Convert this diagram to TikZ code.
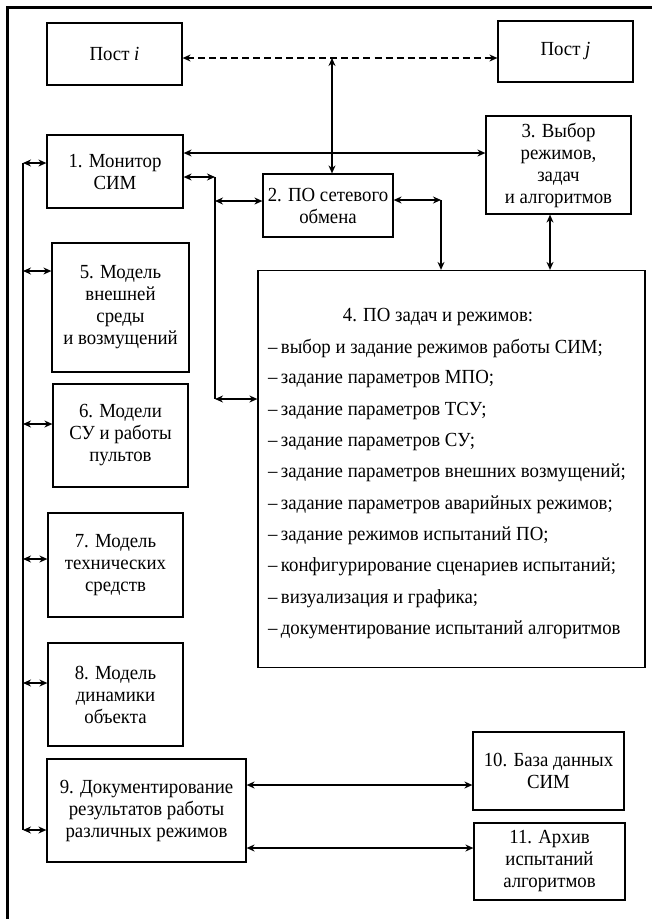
\documentclass[tikz,border=0pt]{standalone}
\usepackage{fontspec}
\setmainfont[FakeStretch=0.94]{Liberation Serif}
\usetikzlibrary{arrows.meta}
\newcommand{\blkfont}{\fontsize{20}{22}\selectfont}
\newcommand{\dsh}{--\,}

\begin{document}
\begin{tikzpicture}[x=1pt,y=-1pt,
  blk/.style={draw, line width=1.2pt, align=center, inner sep=0pt, font=\blkfont},
  lnk/.style={line width=1.7pt, {Stealth[length=8pt,width=7pt]}-{Stealth[length=8pt,width=7pt]}},
  tolnk/.style={line width=1.7pt, -{Stealth[length=8pt,width=7pt]}},
  item/.style={anchor=west, inner sep=0pt, font=\blkfont}]

 \useasboundingbox (0,0) rectangle (652,919);
 \draw[line width=3pt] (7,930) -- (7,7) -- (660,7);

 \node[blk, minimum width=135pt, minimum height=62pt] (posti) at (114.5,54) {Пост \textit{i}};
 \node[blk, minimum width=135pt, minimum height=61pt] (postj) at (565.5,51.5) {Пост \textit{j}};
 \node[blk, minimum width=136pt, minimum height=73pt] (b1) at (115,171.5) {1. Монитор\\СИМ};
 \node[blk, minimum width=130pt, minimum height=63pt] (b2) at (328,205.5) {2. ПО сетевого\\обмена};
 \node[blk, minimum width=145pt, minimum height=98pt] (b3) at (558.5,165) {3. Выбор\\режимов,\\задач\\и алгоритмов};
 \node[blk, minimum width=387pt, minimum height=397pt] (b4) at (451.5,469) {};
 \node[blk, minimum width=137pt, minimum height=129pt] (b5) at (120.5,307.5) {5. Модель\\внешней\\среды\\и возмущений};
 \node[blk, minimum width=135pt, minimum height=103pt] (b6) at (120.5,435.5) {6. Модели\\СУ и работы\\пультов};
 \node[blk, minimum width=135pt, minimum height=104pt] (b7) at (115.5,565) {7. Модель\\технических\\средств};
 \node[blk, minimum width=135pt, minimum height=103pt] (b8) at (115.5,694.5) {8. Модель\\динамики\\объекта};
 \node[blk, minimum width=199pt, minimum height=103pt] (b9) at (146.5,810.5) {9. Документирование\\результатов работы\\различных режимов};
 \node[blk, minimum width=151pt, minimum height=78pt] (b10) at (548.5,771) {10. База данных\\СИМ};
 \node[blk, minimum width=151pt, minimum height=77pt] (b11) at (549.5,861.5) {11. Архив\\испытаний\\алгоритмов};

 \node[font=\blkfont, inner sep=0pt] (t4) at (438,317) {4. ПО задач и режимов:};
 \foreach \txt [count=\k from 0] in {
   выбор и задание режимов работы СИМ;,
   задание параметров МПО;,
   задание параметров ТСУ;,
   задание параметров СУ;,
   задание параметров внешних возмущений;,
   задание параметров аварийных режимов;,
   задание режимов испытаний ПО;,
   конфигурирование сценариев испытаний;,
   визуализация и графика;,
   документирование испытаний алгоритмов}
   \node[item] (i\k) at (268,348+31.3*\k) {\dsh\txt};

 \coordinate (jn) at (332,58);
 \coordinate (c1) at (215,177);
 \coordinate (c2) at (215,201);
 \coordinate (c3) at (215,399);
 \coordinate (d1) at (441,200);
 \coordinate (L1) at (23,163);
 \coordinate (L5) at (23,271);
 \coordinate (L6) at (23,424);
 \coordinate (L7) at (23,559);
 \coordinate (L8) at (23,683);
 \coordinate (L9) at (23,830);

 \draw[lnk, dash pattern=on 7pt off 4pt] (posti.east |- jn) -- (postj.west |- jn);
 \draw[lnk] (jn) -- (b2.north -| jn);
 \draw[lnk] (b1.east |- 0,153) -- (b3.west |- 0,153);

 \draw[line width=1.7pt] (c1) -- (c3);
 \draw[lnk] (b1.east |- c1) -- (c1);
 \draw[lnk] (c2) -- (b2.west |- c2);
 \draw[lnk] (c3) -- (b4.west |- c3);
 \draw[lnk] (b2.east |- d1) -- (d1);
 \draw[tolnk] (d1) -- (b4.north -| d1);
 \draw[lnk] (b3.south -| 550,0) -- (b4.north -| 550,0);

 \draw[line width=1.7pt] (L1) -- (L9);
 \draw[lnk] (L1) -- (b1.west |- L1);
 \draw[lnk] (L5) -- (b5.west |- L5);
 \draw[lnk] (L6) -- (b6.west |- L6);
 \draw[lnk] (L7) -- (b7.west |- L7);
 \draw[lnk] (L8) -- (b8.west |- L8);
 \draw[lnk] (L9) -- (b9.west |- L9);

 \draw[lnk] (b9.east |- 0,785) -- (b10.west |- 0,785);
 \draw[lnk] (b9.east |- 0,848) -- (b11.west |- 0,848);

\end{tikzpicture}
\end{document}
